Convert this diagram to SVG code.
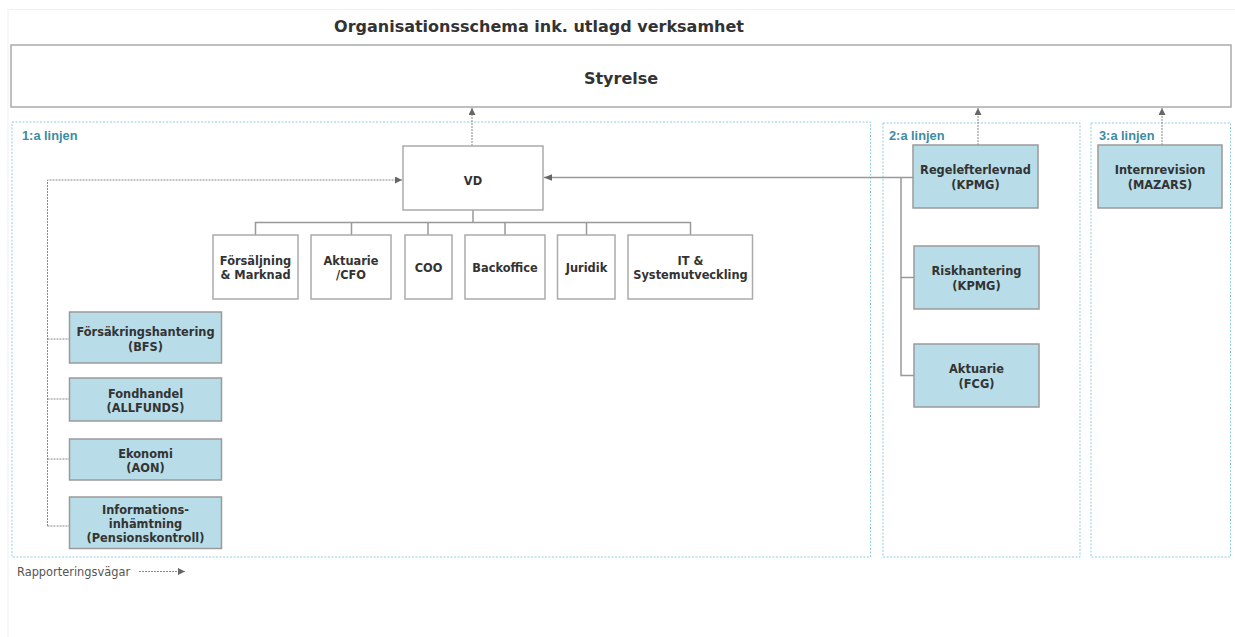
<svg xmlns="http://www.w3.org/2000/svg" width="1235" height="637" viewBox="0 0 1235 637">
<defs>
<style>
.t{font-family:"DejaVu Sans",Verdana,sans-serif;font-weight:bold;fill:#333;text-anchor:middle}
.n{font-size:11.4px}
.wb{fill:#fff;stroke:#aaa;stroke-width:1.5}
.bb{fill:#b8dde8;stroke:#9a9a9a;stroke-width:1.5}
.zone{fill:none;stroke:#8fcfe0;stroke-width:1;stroke-dasharray:2 1.5}
.zl{font-family:"Liberation Sans",Arial,sans-serif;font-weight:bold;font-size:12.8px;fill:#3d8ca3}
.dot{fill:none;stroke:#888;stroke-width:1;stroke-dasharray:2 1}
.sol{fill:none;stroke:#999;stroke-width:1.5}
</style>
<marker id="ah" viewBox="0 0 10 10" refX="10" refY="5" markerWidth="7" markerHeight="7" markerUnits="userSpaceOnUse" orient="auto"><path d="M0,0 L10,5 L0,10 Z" fill="#666"/></marker>
<marker id="ah2" viewBox="0 0 10 10" refX="10" refY="5" markerWidth="8" markerHeight="8" markerUnits="userSpaceOnUse" orient="auto"><path d="M0,1 L10,5 L0,9 Z" fill="#666"/></marker>
</defs>
<rect x="0" y="0" width="1235" height="637" fill="#fff"/>
<rect x="8" y="9.5" width="1240" height="640" fill="none" stroke="#f0f0f0" stroke-width="1"/>
<text x="539" y="32" class="t" style="font-size:16px">Organisationsschema ink. utlagd verksamhet</text>

<g id="styrelse"><rect x="11" y="45" width="1220" height="62" fill="#fff" stroke="#aaa" stroke-width="1.5"/><text x="621" y="84" class="t" style="font-size:16px">Styrelse</text></g>

<g id="zone1"><rect x="12" y="122" width="858.5" height="435" class="zone"/><text x="22" y="140" class="zl">1:a linjen</text></g>
<g id="zone2"><rect x="883" y="123" width="197" height="434" class="zone"/><text x="889" y="140" class="zl">2:a linjen</text></g>
<g id="zone3"><rect x="1091" y="123" width="139.5" height="434" class="zone"/><text x="1099" y="140" class="zl">3:a linjen</text></g>

<g id="connectors">
<path class="dot" d="M472,146 V108" marker-end="url(#ah)"/>
<path class="dot" d="M978,145 V108" marker-end="url(#ah)"/>
<path class="dot" d="M1162,145 V108" marker-end="url(#ah)"/>
<path class="sol" d="M913,177.5 H544" marker-end="url(#ah2)"/>
<path class="sol" d="M901,177.5 V375.5 H914 M901,277.5 H914"/>
<path class="sol" d="M473,210 V222.5 M255.5,235 V222.5 H690.5 V235 M351.5,222.5 V235 M428,222.5 V235 M505,222.5 V235 M586.5,222.5 V235"/>
<path class="dot" d="M47.5,526 V180 H402" marker-end="url(#ah)"/>
<path class="dot" d="M47.5,339 H69 M47.5,399 H69 M47.5,459 H69 M47.5,526 H69"/>
<path class="dot" d="M139,571.5 H185" marker-end="url(#ah)"/>
</g>

<g id="vd"><rect x="403" y="146" width="140" height="64" class="wb"/><text x="473" y="185" class="t n">VD</text></g>

<g id="forsaljning"><rect x="213" y="235" width="85" height="64" class="wb"/><text class="t n" x="255.5" y="264.5">Försäljning<tspan x="255.5" dy="14.5">&amp; Marknad</tspan></text></g>
<g id="aktuarie-cfo"><rect x="311" y="235" width="80" height="64" class="wb"/><text class="t n" x="351" y="264.5">Aktuarie<tspan x="351" dy="14.5">/CFO</tspan></text></g>
<g id="coo"><rect x="405" y="235" width="47" height="64" class="wb"/><text class="t n" x="428.5" y="271.5">COO</text></g>
<g id="backoffice"><rect x="465" y="235" width="80" height="64" class="wb"/><text class="t n" x="505" y="271.5">Backoffice</text></g>
<g id="juridik"><rect x="557.5" y="235" width="57.5" height="64" class="wb"/><text class="t n" x="586.5" y="271.5">Juridik</text></g>
<g id="it"><rect x="628" y="235" width="124.5" height="64" class="wb"/><text class="t n" x="690.5" y="264.5">IT &amp;<tspan x="690.5" dy="14.5">Systemutveckling</tspan></text></g>

<g id="forsakring"><rect x="69.5" y="312" width="152" height="51" class="bb"/><text class="t n" x="145.5" y="336">Försäkringshantering<tspan x="145.5" dy="14.5">(BFS)</tspan></text></g>
<g id="fondhandel"><rect x="69.5" y="378" width="152" height="43" class="bb"/><text class="t n" x="145.5" y="397.5">Fondhandel<tspan x="145.5" dy="14.5">(ALLFUNDS)</tspan></text></g>
<g id="ekonomi"><rect x="69.5" y="439" width="152" height="41" class="bb"/><text class="t n" x="145.5" y="457.5">Ekonomi<tspan x="145.5" dy="14.5">(AON)</tspan></text></g>
<g id="information"><rect x="69.5" y="497" width="152" height="51.5" class="bb"/><text class="t n" x="145.5" y="513.5">Informations-<tspan x="145.5" dy="14">inhämtning</tspan><tspan x="145.5" dy="14.5">(Pensionskontroll)</tspan></text></g>

<g id="regelefterlevnad"><rect x="913" y="145" width="125" height="63" class="bb"/><text class="t n" x="975.5" y="174">Regelefterlevnad<tspan x="975.5" dy="14.5">(KPMG)</tspan></text></g>
<g id="riskhantering"><rect x="914" y="246" width="125" height="63" class="bb"/><text class="t n" x="976.5" y="275">Riskhantering<tspan x="976.5" dy="14.5">(KPMG)</tspan></text></g>
<g id="aktuarie-fcg"><rect x="914" y="344" width="125" height="63" class="bb"/><text class="t n" x="976.5" y="373">Aktuarie<tspan x="976.5" dy="14.5">(FCG)</tspan></text></g>
<g id="internrevision"><rect x="1098" y="145" width="124" height="63" class="bb"/><text class="t n" x="1160" y="174">Internrevision<tspan x="1160" dy="14.5">(MAZARS)</tspan></text></g>

<g id="legend"><text x="17" y="575.5" style="font-family:'DejaVu Sans',Verdana,sans-serif;font-size:11.4px;fill:#555">Rapporteringsvägar</text></g>
</svg>
